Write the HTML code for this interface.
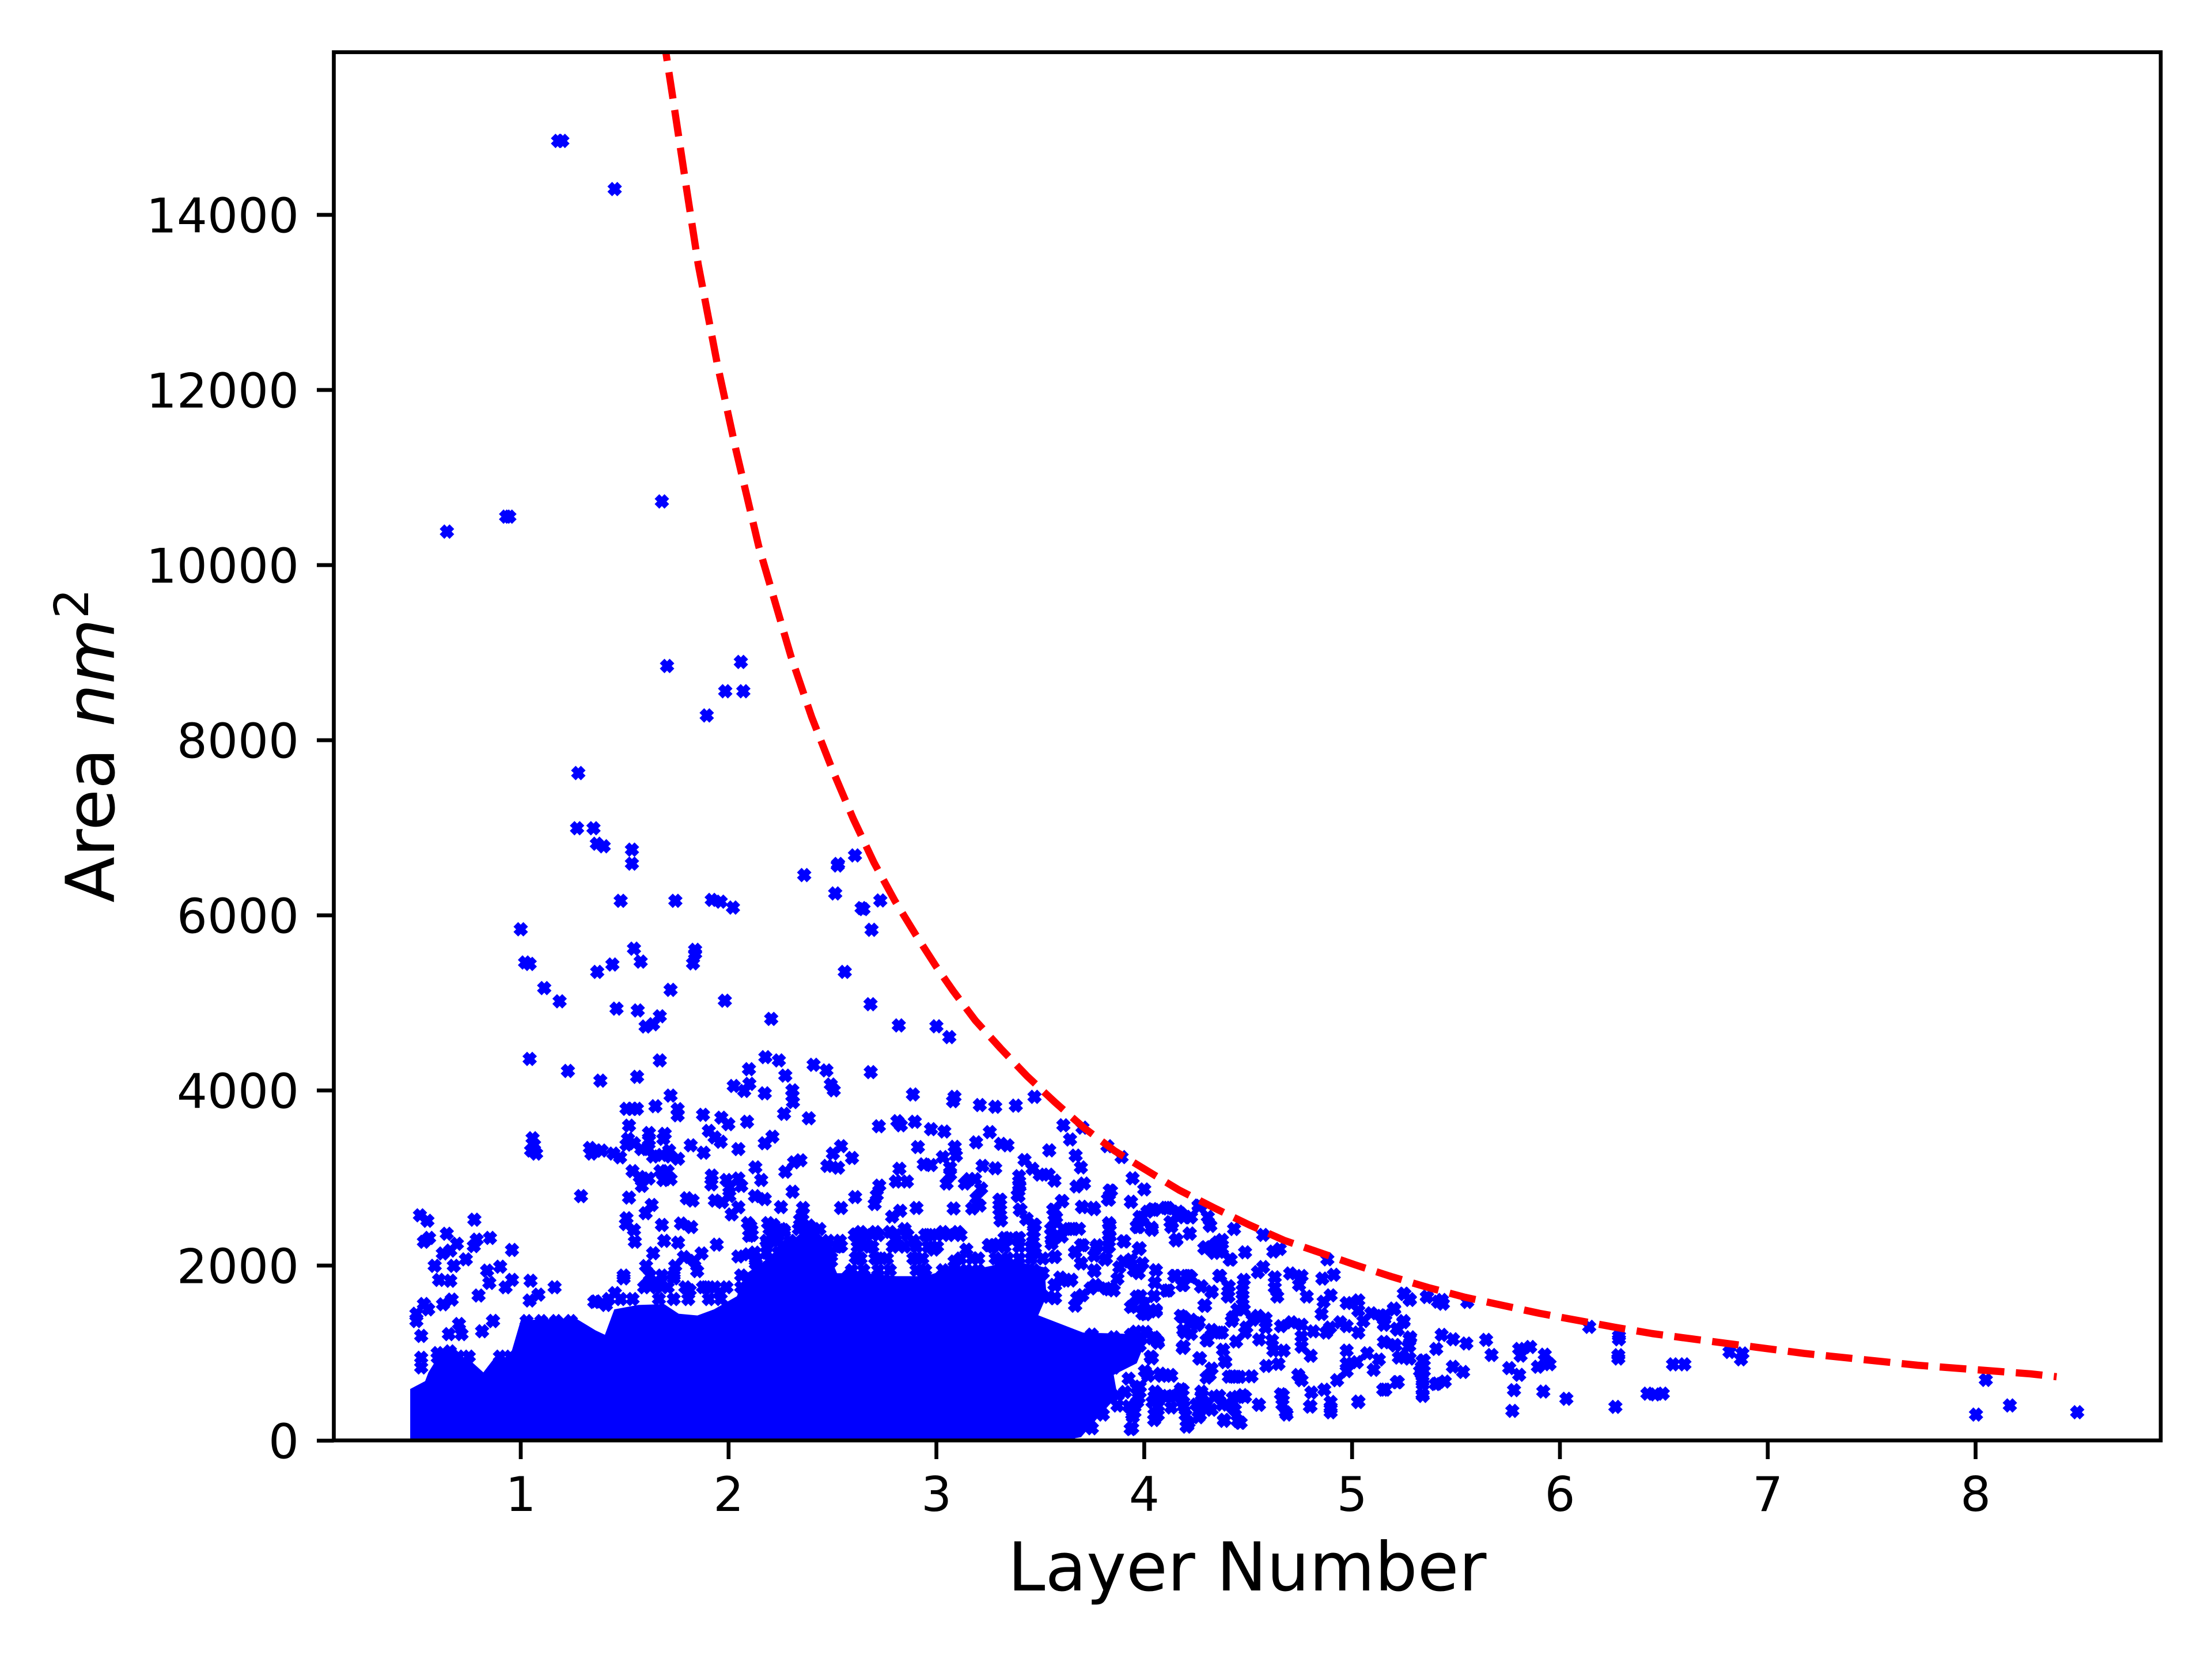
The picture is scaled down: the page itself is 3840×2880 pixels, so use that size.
<!DOCTYPE html>
<html lang="en">
<head>
<meta charset="utf-8">
<title>Area vs Layer Number</title>
<style>
html,body{margin:0;padding:0;background:#fff}
svg{display:block}
text{font-family:"DejaVu Sans","Liberation Sans",sans-serif;fill:#000}
</style>
</head>
<body>
<svg id="chart" xmlns="http://www.w3.org/2000/svg" width="3840" height="2880" viewBox="0 0 3840 2880">
<defs><clipPath id="plot-clip"><rect x="580" y="90.6" width="3171" height="2410"/></clipPath></defs>
<rect x="0" y="0" width="3840" height="2880" fill="#fff"/>
<g id="marks" clip-path="url(#plot-clip)"></g>
<g id="ticks"></g>
<rect x="579.5" y="90.6" width="3171.5" height="2410" fill="none" stroke="#000" stroke-width="6.67"/>
<text x="2165" y="2761" font-size="116.67" text-anchor="middle">Layer Number</text>
<text transform="translate(198,1567) rotate(-90)" font-size="116.67" xml:space="preserve">Area <tspan font-style="italic">nm</tspan><tspan dy="-45" font-size="81.67">2</tspan></text>
</svg>
<script>
const xTickValues = [1, 2, 3, 4, 5, 6, 7, 8];
const yTickValues = [0, 2000, 4000, 6000, 8000, 10000, 12000, 14000];

// Dashed limit curve
const curveLayers = [1.66,1.698,1.734,1.798,1.854,1.945,2.034,2.145,2.3,2.4,2.5,2.6,2.7,2.8,2.9,3,3.08,3.187,3.309,3.436,3.572,3.711,3.858,4.013,4.168,4.337,4.503,4.672,4.841,5.016,5.188,5.365,5.543,5.723,5.903,6.083,6.263,6.443,6.631,7.175,7.72,8.264,8.39];
const curveAreas = [16500,15862,15303,14296,13434,12303,11330,10215,8960,8264,7660,7101,6600,6167,5780,5411,5138,4800,4480,4164,3862,3572,3309,3085,2862,2658,2467,2289,2151,2007,1875,1750,1638,1546,1454,1375,1296,1224,1164,997,862,763,730];

// Overplotted core where individual points merge into a solid mass: outline
const coreLayers = [0.468,0.468,0.54,0.556,0.6,0.75,0.82,0.875,0.945,1,1.263,1.36,1.405,1.45,1.565,1.69,1.76,1.85,1.93,2.04,2.08,2.2,2.29,2.36,2.45,2.522,2.663,2.805,2.946,3.087,3.229,3.37,3.52,3.53,3.49,3.705,4.019,3.964,3.853,3.871,3.779,3.696,3.6];
const coreAreas = [0,590,680,780,950,930,780,950,930,1375,1400,1260,1210,1500,1550,1560,1450,1430,1500,1650,1900,2100,2250,2400,2316,1913,1913,1879,1879,1980,1980,2047,1980,1650,1432,1235,1213,884,752,511,270,40,0];

// Individually resolved points
const upperLayers = [1.18,1.2,1.452,0.645,0.93,0.945,1.679,1.704,2.059,1.984,2.071,1.895,1.277,1.271,1.35,1.366,1.399,1.535,1.535,2.364,2.527,2.608,2.649,2.73,2.688];
const upperAreas = [14845,14845,14295,10382,10553,10553,10727,8848,8894,8559,8559,8283,7625,6995,6995,6818,6789,6750,6590,6460,6586,6684,6072,6170,5835];

const leftLayers = [
2.525,2.513,2.64,1.481,1.744,1.919,1.962,2.021,1,1.021,1.043,1.545,1.577,1.441,1.368,1.839,1.839,1.829,2.559,1.113,
1.187,1.721,1.982,1.461,1.563,1.669,1.637,1.601,2.205,1.043,1.669,1.227,1.383,1.56,2.177,2.242,2.098,2.409,2.471,2.273,
2.025,2.1,2.075,2.174,2.307,2.307,2.31,2.492,2.506,1.721,1.509,1.538,1.559,1.648,1.755,1.755,1.877,1.965,1.999,2.089,
2.267,2.386,1.521,1.057,1.064,1.05,1.074,1.617,1.617,1.693,1.686,1.516,1.509,1.333,1.34,1.361,1.389,1.446,1.478,1.545,
1.58,1.615,1.637,1.679,1.714,1.721,1.757,1.818,1.88,1.905,1.933,1.962,2.047,2.174,2.211,2.541,2.502,2.594,2.129,2.157,
2.273,2.315,2.346,2.475,2.527,1.538,1.573,1.615,1.583,1.672,1.707,1.686,1.721,1.919,1.917,1.99,2.047,2.061,2.004,1.934,
1.969,2.004,2.308,2.609,1.29,1.521,1.799,1.827,2.127,2.174,2.252,2.541,1.63,1.601,2.047,2.015,2.355,0.515,0.551,0.777,
1.509,1.506,1.545,1.549,1.679,1.771,1.82,2.093,2.11,2.099,2.216,2.266,0.559,0.534,0.644,0.693,0.788,0.774,0.852,0.958,
1.69,1.757,1.943,1.637,1.785,1.87,1.835,1.849,1.743,1.603,2.047,2.096,2.492,2.535,0.625,0.661,0.586,0.678,0.736,0.838,
0.901,0.607,0.661,0.849,0.958,0.927,1.047,1.163,1.085,1.043,0.797,0.668,0.626,0.534,0.555,0.498,0.498,0.866,1.495,1.361,
2.541,1.028,1.099,1.17,1.241,0.703,0.521,0.654,0.715,0.814,0.867,0.521,0.521,0.601,0.659,
1.608,1.665,1.736,1.813,1.891,1.955,1.453,1.41,1.354,2.061,2.131,2.188,2.259,2.33,2.414,2.471,2.541,2.612,2.358,2.344,
2.386,2.584,2.612];
const leftAreas = [
6569,6250,6082,6166,6166,6176,6156,6089,5841,5461,5445,5619,5471,5438,5354,5606,5562,5451,5354,5169,
5018,5149,5025,4934,4914,4847,4756,4730,4817,4360,4343,4223,4112,4155,4380,4343,4243,4293,4229,4169,
4051,4075,3994,3967,4001,3934,3867,4068,4001,3941,3790,3790,3790,3820,3786,3716,3722,3689,3615,3642,
3733,3682,3598,3454,3380,3313,3279,3514,3430,3504,3447,3447,3380,3343,3279,3313,3313,3279,3236,3397,
3330,3330,3246,3263,3313,3246,3219,3373,3289,3538,3464,3414,3330,3397,3471,3363,3279,3229,3122,2977,
3071,3179,3202,3138,3118,3078,3011,2994,2910,3078,3078,2977,2987,3028,2927,2977,2994,2910,2893,2742,
2725,2793,2843,2782,2793,2776,2769,2742,2793,2759,2668,2658,2692,2598,2665,2584,2584,2574,2511,2524,
2541,2474,2406,2272,2464,2480,2440,2484,2406,2339,2464,2406,2316,2272,2363,2249,2296,2222,2316,2178,
2282,2262,2239,2141,2098,2138,2054,1937,1994,1994,2104,2128,2047,2222,2138,2171,1997,1997,2071,1943,
1987,1836,1826,1802,1836,1752,1826,1752,1668,1601,1658,1611,1557,1561,1500,1450,1366,1366,1853,1591,
1819,1366,1366,1366,1366,1332,1197,1217,1217,1250,1368,947,836,947,1020,
1785,1785,1853,1718,1752,1685,1685,1550,1584,1886,2020,2256,2222,2256,2356,2222,2222,2356,2658,2524,
2457,1752,2088];

const middleLayers = [
2.683,2.819,3,3.062,2.684,2.887,3.087,3.08,3.209,3.283,3.382,3.472,3.611,3.703,3.643,3.823,3.891,3.944,4,3.936,
2.723,2.812,2.829,2.896,2.974,3.038,3.257,3.191,3.311,3.342,3.543,2.911,3.088,3.094,3.031,2.939,2.974,3.222,3.283,3.066,
3.066,3.67,3.695,3.424,3.462,3.497,3.54,3.568,3.398,3.398,3.391,2.822,2.805,2.858,2.725,2.713,2.703,3.158,3.137,3.186,
3.049,3.215,3.71,3.674,3.84,3.83,2.904,2.826,2.787,3.083,3.172,3.193,3.208,3.307,3.307,3.311,3.401,3.434,3.469,3.606,
3.568,3.568,3.702,3.759,3.978,4.049,4.112,4.19,3.964,4.035,4.134,4.155,4.219,4.261,4.289,3.83,3.83,3.83,3.9,3.66,
3.61,3.554,3.554,3.568,3.696,3.667,3.696,3.759,3.773,3.816,3.759,3.978,3.9,3.95,4.056,4.148,4.218,4.183,4.275,3.646,
3.596,3.568,3.568,3.667,3.702,3.83,3.766,3.964,3.936,4.056,4.006,4.106,4.289,4.19,4.247,4.19,4.035,4.063,3.936,4.006,
4.19,4.268,4.077,4.049,3.936,4.205,4.261,4.148,4.049,
2.635,2.706,2.635,2.692,2.635,2.72,2.776,2.847,2.805,2.889,2.904,2.932,2.96,3.031,3.102,2.988,3.144,3.087,3.201,3.257,
3.328,3.314,3.398,3.469,3.469,3.512,3.54,3.469,2.105,2.112,2.19,2.218,2.267,2.522,2.493,2.536,2.578];
const middleAreas = [
4985,4743,4733,4609,4209,3954,3927,3877,3833,3813,3826,3927,3602,3575,3440,3363,3239,2997,2870,2729,
3591,3649,3602,3642,3558,3531,3524,3407,3390,3373,3316,3353,3356,3256,3239,3155,3148,3138,3111,3121,
3038,3256,3121,3205,3105,3038,3038,2970,3021,2920,2803,3105,2960,2960,2913,2803,2702,2987,2937,2987,
2937,2880,2937,2903,2853,2752,2658,2625,2558,2652,2652,2769,2685,2752,2635,2517,2635,2534,2467,2735,
2635,2517,2668,2645,2551,2635,2652,2551,2450,2433,2484,2299,2366,2685,2198,2484,2349,2215,2276,2417,
2417,2349,2249,2098,2232,2148,2030,2114,2232,2081,1947,2198,2047,1947,1947,1879,1879,1779,1762,1829,
1863,1779,1628,1544,1661,1728,1779,1644,1527,1493,1443,1712,1544,1409,1342,1258,940,1141,1208,1242,
1074,940,755,302,134,167,268,503,503,
2383,2383,2249,2215,2081,2081,2383,2417,2249,2282,2081,1879,2349,2383,2383,2182,2182,2047,2081,2232,
2316,2047,2316,2383,2148,1913,1644,1812,2450,2349,2484,2349,2383,2215,2047,1812,1879];

const fringeLayers = [
2.607,2.663,2.72,2.805,2.861,2.946,3.003,3.059,3.116,
2.621,2.677,2.79,2.847,2.904,2.96,3.003,3.271,3.328,3.398,3.455,
2.621,2.706,2.762,2.889,2.932,3.116,3.172,3.285,3.342,3.398,3.455,3.512,
2.593,2.649,2.72,2.776,2.904,2.946,3.031,3.087,3.144,3.201,3.3,3.413,3.469,
2.197,2.253,2.338,2.38,2.437,
2.182,2.239,2.296,2.366,2.423,2.48,2.536,
2.126,2.182,2.239,2.296,2.352,2.423,2.493,
1.594,1.651,1.707,1.792,1.877,1.934,1.99,2.061,2.117,
1.424,1.481,1.538,1.665,1.736,1.806,1.905,1.962,
1.495,1.622,1.679,1.736,2.061,
2.131,2.202,
0.6,0.65,0.7,0.75,0.9,0.95];
const fringeAreas = [
2349,2349,2349,2349,2349,2349,2349,2349,2349,
2215,2215,2215,2215,2215,2215,2215,2215,2215,2215,2215,
2081,2081,2081,2081,2081,2081,2081,2081,2081,2081,2081,2081,
1947,1947,1947,1947,1947,1947,1947,1947,1947,1947,1947,1947,1947,
2417,2417,2417,2417,2417,
2282,2282,2282,2282,2282,2282,2282,
2148,2148,2148,2148,2148,2148,2148,
1752,1752,1752,1752,1752,1752,1752,1752,1752,
1618,1618,1618,1618,1618,1618,1618,1618,
1886,1886,1886,1886,1886,
2054,2054,
1000,970,960,960,960,960];

const bandLayers = [
3.303,3.303,3.308,3.4,3.395,3.405,3.432,3.474,3.465,3.474,3.252,3.298,3.345,3.391,3.312,3.562,3.603,3.576,3.552,3.557,
3.603,3.649,3.686,3.7,3.756,3.834,3.825,3.936,3.834,3.834,3.825,3.904,3.705,3.668,3.696,3.76,3.77,3.811,3.571,3.973,
3.936,3.991,4.056,3.973,3.88,3.871,3.816,3.853,3.742,3.668,3.677,3.571,3.571,3.603,3.649,4.051,4.116,4.047,3.982,3.945,
3.991,4.056,4,3.991,4.037,4.102,4.176,4.222,3.973,4.037,4.13,4.153,4.218,4.315,4.268,4.296,4.352,4.361,4.416,4.144,
4.213,4.185,4.273,4.324,4.365,4.407,4.402,4.292,4.185,4.254,4.194,4.361,4.305,4.185,4.379,4.268,4.388,4.315,4.407,4.444,
4.426,4.037,4.065,4.037,4.084,4.019,4.13,3.964,3.973,4.056,4.111,4.185,4.278,4.361,4.426,4.065,4.13,4.204,4.199,4.268,
4.384,4.449,3.936,3.945,3.871,3.908];
const bandAreas = [
2748,2638,2517,2901,2792,2638,2528,2463,2331,2199,2232,2243,2309,2309,2068,2638,2737,2550,2419,2287,
2331,2419,2419,2671,2660,2857,2759,2726,2463,2331,2221,2276,2232,2156,2024,1936,2210,2068,2101,2188,
2068,2024,1947,1914,1980,1849,1739,1717,1739,1542,1629,1629,1772,1827,1838,1805,1717,1651,1651,1542,
1454,1476,1563,2550,2638,2660,2594,2550,2441,2408,2441,2287,2364,2463,2682,2210,2265,2156,2068,1881,
1881,1783,1761,1695,1881,1761,1651,1542,1410,1322,1235,1235,1147,1059,1037,939,906,752,730,730,
1410,1169,1125,949,741,741,741,599,489,511,511,577,511,511,489,292,379,160,292,292,
226,226,138,270,401,555];

const rightLayers = [
4.015,3.978,3.966,4.04,4.114,4.164,4.225,4.126,4.151,4.219,4.034,4.263,4.306,4.318,4.432,4.572,4.652,4.621,4.293,4.337,
4.374,4.337,4.374,4.411,4.485,4.572,4.547,4.479,4.473,4.628,4.628,4.64,4.702,4.757,4.745,4.782,4.881,4.912,4.857,4.897,
4.863,4.853,5.252,5.277,5.36,5.413,4.974,5.03,5.03,5.092,5.141,5.203,5.054,5.03,5.153,5.246,5.215,4.943,4.894,4.974,
4.708,4.658,4.757,4.813,4.875,4.757,4.757,4.801,4.547,4.584,4.584,4.522,4.491,4.485,4.448,4.473,4.479,4.421,4.553,4.615,
4.621,4.671,4.442,4.38,4.39,5.153,5.209,5.277,5.271,4.974,4.974,4.974,5.073,5.129,5.023,5.104,5.228,5.277,5.339,5.327,
5.345,4.928,5.215,5.15,5.03,5.339,5.339,5.401,4.804,4.866,4.797,4.897,4.897,4.658,4.665,4.681,4.551,4.741,4.757,4.587,
4.646,4.516,4.423,4.46,4.324,4.3,4.265,4.293,4.225,4.176,4.263,4.188,4.225,4.324,4.374,4.3,4.188,4.151,4.201,4.225,
4.188,4.275,4.324,4.361,4.405,4.405,4.077,4.126,4.003,4.052,4.102,4.176,4.188,4.213,4.275,4.337,4.374,4.448,4.485,4.386,
4.46,4.25,4.324,4.436,4.052,3.953,3.935,4.04,3.978,3.966,
3.748,3.854,3.96,4.048,4.066,3.783,3.889,3.978,3.748,3.854,4.031,3.713,3.819,3.925,3.978,3.642,3.748,3.872,3.677,3.801,
3.925,3.748,3.942,3.553,3.642,4.066,4.19,4.296,4.42,4.066,4.172,4.278,4.473,4.208,4.384,4.464,3.942,4.048,4.552,4.667,
4.685,4.8,4.897,5.03];
const rightAreas = [
2615,2556,2439,2644,2659,2615,2556,2497,2292,2365,2424,2674,2556,2453,2418,2350,2189,2160,2204,2233,
2292,2145,2189,2071,2151,1983,1925,1836,1719,1866,1748,1646,1910,1881,1778,1646,2071,1895,1851,1660,
1587,1446,1675,1616,1646,1587,1572,1602,1484,1455,1425,1499,1366,1234,1323,1352,1279,1352,1293,1308,
1352,1308,1323,1249,1234,1190,1073,970,1425,1396,1293,1381,1293,1234,1499,1616,1499,1367,1155,1146,
1029,1029,1132,1038,897,1126,1088,1161,1073,1029,882,794,999,926,897,809,955,941,911,794,
794,691,668,582,447,676,530,647,550,582,389,442,324,530,412,324,412,750,691,853,
876,735,735,729,823,720,941,1543,1381,1425,1352,1264,1220,1264,1234,1146,1073,1881,1881,1866,
1778,1763,1704,1881,1763,1646,765,750,794,559,500,588,441,206,559,500,412,500,500,236,
206,412,353,353,294,324,133,441,618,441,
1212,1181,1244,1181,1118,1055,992,1086,866,834,960,740,645,708,551,520,520,520,299,299,
394,142,142,205,79,394,394,394,394,520,551,520,520,173,236,205,299,236,409,520,
299,394,362,441];

const tailLayers = [
5.249,5.278,5.36,5.432,5.437,5.554,6.141,6.284,6.284,6.281,6.281,6.267,6.031,5.92,5.779,5.771,5.645,5.671,5.55,5.486,
5.431,5.405,5.485,5.534,5.804,5.811,5.857,5.927,5.95,5.894,5.756,5.804,5.16,5.22,5.34,5.34,5.446,5.409,5.335,5.335,
5.28,5.275,5.345,5.275,5.225,5.206,5.155,5.248,5.22,5.201,5.16,5.155,6.421,6.458,6.495,6.544,6.599,6.816,6.878,6.871,
8.049,8.002,8.165,8.489];
const tailAreas = [
1678,1607,1640,1607,1564,1585,1300,1195,1158,976,938,386,478,561,577,340,1151,978,1110,1158,
1208,1048,844,785,1048,971,1070,982,873,844,829,752,583,669,642,511,675,653,840,763,
1180,1081,917,938,949,1092,1125,1366,1267,1509,1432,1333,537,528,537,872,872,1013,996,929,
694,298,402,325];

const SVG_NS = 'http://www.w3.org/2000/svg';
const xScale = v => 904 + (v - 1) * 360.8;
const yScale = v => 2501 - v * 0.152;
const marks = document.getElementById('marks');
const ticks = document.getElementById('ticks');
const MARKER = 'M-4.5-12.6L0-8L4.5-12.6L12.6-4.5L8 0L12.6 4.5L4.5 12.6L0 8L-4.5 12.6L-12.6 4.5L-8 0L-12.6-4.5Z';

function tracePoints(xs, ys) {
  const out = [];
  for (let i = 0; i < Math.min(xs.length, ys.length); i++) {
    out.push(xScale(xs[i]).toFixed(1) + ',' + yScale(ys[i]).toFixed(1));
  }
  return out;
}

const core = document.createElementNS(SVG_NS, 'path');


core.setAttribute('d', 'M' + tracePoints(coreLayers, coreAreas).join('L') + 'Z');
core.setAttribute('fill', '#0000ff');
marks.appendChild(core);

function drawPoints(xs, ys) {
  for (let i = 0; i < Math.min(xs.length, ys.length); i++) {
    const p = document.createElementNS(SVG_NS, 'path');
    
    
    p.setAttribute('d', MARKER);
    p.setAttribute('fill', '#0000ff');
    p.setAttribute('transform', 'translate(' + xScale(xs[i]).toFixed(1) + ',' + yScale(ys[i]).toFixed(1) + ')');
    marks.appendChild(p);
  }
}
drawPoints(upperLayers, upperAreas);
drawPoints(leftLayers, leftAreas);
drawPoints(middleLayers, middleAreas);
drawPoints(fringeLayers, fringeAreas);
drawPoints(bandLayers, bandAreas);
drawPoints(rightLayers, rightAreas);
drawPoints(tailLayers, tailAreas);

const curve = document.createElementNS(SVG_NS, 'path');


curve.setAttribute('d', 'M' + tracePoints(curveLayers, curveAreas).join('L'));
curve.setAttribute('fill', 'none');
curve.setAttribute('stroke', '#ff0000');
curve.setAttribute('stroke-width', '12.5');
curve.setAttribute('stroke-linejoin', 'round');
curve.setAttribute('stroke-dasharray', '46.25 20');
marks.appendChild(curve);
const dashPeriod = 66.25;
const curveLength = curve.getTotalLength();
curve.setAttribute('stroke-dashoffset', String(dashPeriod - ((curveLength - 5) % dashPeriod)));

xTickValues.forEach(v => {
  const line = document.createElementNS(SVG_NS, 'line');
  
  
  line.setAttribute('x1', xScale(v));
  line.setAttribute('x2', xScale(v));
  line.setAttribute('y1', 2500.5);
  line.setAttribute('y2', 2533);
  line.setAttribute('stroke', '#000');
  line.setAttribute('stroke-width', '6.67');
  ticks.appendChild(line);
  const label = document.createElementNS(SVG_NS, 'text');
  
  
  label.setAttribute('x', xScale(v));
  label.setAttribute('y', 2623);
  label.setAttribute('font-size', '83.33');
  label.setAttribute('text-anchor', 'middle');
  label.textContent = String(v);
  ticks.appendChild(label);
});

yTickValues.forEach(v => {
  const line = document.createElementNS(SVG_NS, 'line');
  
  
  line.setAttribute('x1', 550);
  line.setAttribute('x2', 579.5);
  line.setAttribute('y1', yScale(v));
  line.setAttribute('y2', yScale(v));
  line.setAttribute('stroke', '#000');
  line.setAttribute('stroke-width', '6.67');
  ticks.appendChild(line);
  const label = document.createElementNS(SVG_NS, 'text');
  
  
  label.setAttribute('x', 519);
  label.setAttribute('y', yScale(v) + 30.5);
  label.setAttribute('font-size', '83.33');
  label.setAttribute('text-anchor', 'end');
  label.textContent = String(v);
  ticks.appendChild(label);
});
</script>
</body>
</html>
